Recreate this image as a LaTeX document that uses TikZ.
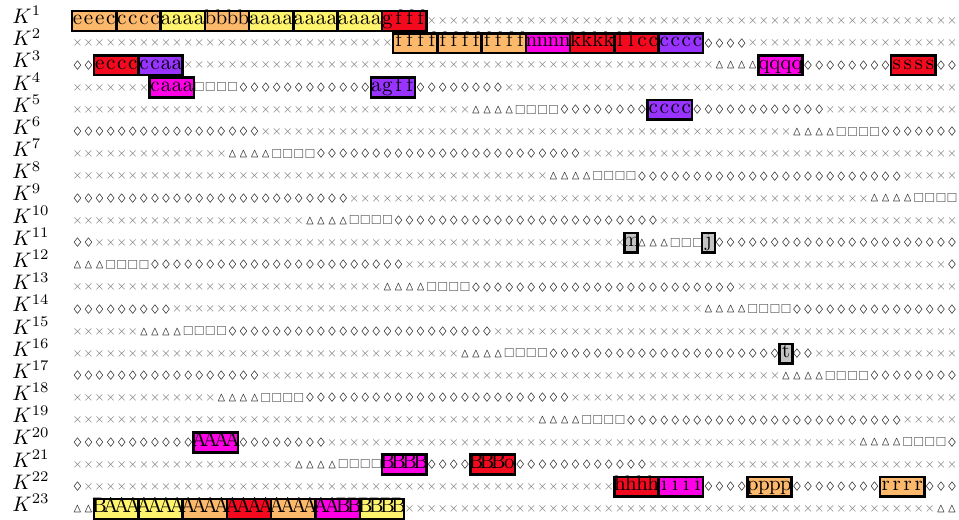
\documentclass[tikz,border=0pt]{standalone}
\usepackage{amssymb}
\definecolor{SeqOrange}{HTML}{FDB96B}
\definecolor{SeqYellow}{HTML}{FFF46E}
\definecolor{SeqRed}{HTML}{F40A1F}
\definecolor{SeqMagenta}{HTML}{FF00E6}
\definecolor{SeqPurple}{HTML}{9933FF}
\definecolor{SeqGray}{HTML}{C3C3C3}
\definecolor{MarkGray}{HTML}{787878}
\tikzset{
  rowlabel/.style={anchor=base west, inner sep=0pt, font=\normalsize},
  cellsym/.style={inner sep=0pt, font=\tiny},
  seqfill/.style={draw=black, line width=1.2pt, inner sep=0pt,
                  minimum width=21.1pt, minimum height=9.4pt},
  onefill/.style={seqfill, fill=SeqGray, minimum width=6pt},
  boxletter/.style={inner sep=0pt, font=\normalsize,
                    text height=6pt, text depth=2.5pt},
}
\newcommand{\glyphx}{\textcolor{MarkGray}{$\times$}}
\newcommand{\glyphd}{$\lozenge$}
\newcommand{\glypht}{{\fontsize{6}{7}\selectfont\textcolor{black!85}{$\vartriangle$}}}
\newcommand{\glyphs}{\textcolor{black!70}{$\square$}}

\begin{document}
\begin{tikzpicture}[x=0.476pt, y=-0.476pt]

  \useasboundingbox (0,0) rectangle (959,520);

  % \symrow{row}{code/run,...}: x cross, d lozenge, t triangle, s square, b under a box
  \newcommand{\symrow}[2]{%
    \foreach \sym/\n [remember=\stop as \start (initially 0),
        evaluate=\n as \stop using int(\start+\n),
        evaluate=\n as \last using int(\start+\n-1)] in {#2}{%
      \if\sym b\else
        \foreach \k in {\start,...,\last}
          \node[cellsym] (s-#1-\k) at ({72+11.07*(\k+0.5)},{21+22.18*(#1-1)})
            {\csname glyph\sym\endcsname};
      \fi
    }%
  }
  % \seqbox{row}{first cell}{colour}{four letters}
  \newcommand{\seqbox}[4]{%
    \node[seqfill, fill=#3] (b-#1-#2) at ({72+11.07*(#2+2)},{21+22.18*(#1-1)}) {};
    \foreach \ch [count=\i from 0] in {#4}
      \node[boxletter] (l-#1-#2-\i) at ({72+11.07*(#2+\i+0.5)},{21+22.18*(#1-1)}) {\ch};
  }
  % \onebox{row}{cell}{letter}
  \newcommand{\onebox}[3]{%
    \node[onefill] (o-#1-#2) at ({72+11.07*(#2+0.5)},{21+22.18*(#1-1)}) {};
    \node[boxletter] (l-#1-#2) at ({72+11.07*(#2+0.5)},{21+22.18*(#1-1)}) {#3};
  }

  \foreach \r in {1,...,23}
    \node[rowlabel] (k-\r) at (12,{23.5+22.18*(\r-1)}) {$K^{\r}$};

  \symrow{1}{b/32,x/48}
  \symrow{2}{x/29,b/28,d/4,x/19}
  \symrow{3}{d/2,b/8,x/48,t/4,b/4,d/8,b/4,d/2}
  \symrow{4}{x/7,b/4,s/4,d/12,b/4,d/8,x/41}
  \symrow{5}{x/36,t/4,s/4,d/8,b/4,d/12,x/12}
  \symrow{6}{d/17,x/48,t/4,s/4,d/7}
  \symrow{7}{x/14,t/4,s/4,d/24,x/34}
  \symrow{8}{x/43,t/4,s/4,d/24,x/5}
  \symrow{9}{d/25,x/47,t/4,s/4}
  \symrow{10}{x/21,t/4,s/4,d/24,x/27}
  \symrow{11}{d/2,x/48,b/1,t/3,s/3,b/1,d/22}
  \symrow{12}{t/3,s/4,d/23,x/49,d/1}
  \symrow{13}{x/28,t/4,s/4,d/24,x/20}
  \symrow{14}{d/9,x/48,t/4,s/4,d/15}
  \symrow{15}{x/6,t/4,s/4,d/24,x/42}
  \symrow{16}{x/35,t/4,s/4,d/21,b/1,d/2,x/13}
  \symrow{17}{d/17,x/47,t/4,s/4,d/8}
  \symrow{18}{x/13,t/4,s/4,d/24,x/35}
  \symrow{19}{x/42,t/4,s/4,d/25,x/5}
  \symrow{20}{d/11,b/4,d/8,x/48,t/4,s/4,d/1}
  \symrow{21}{x/20,t/4,s/4,b/4,d/4,b/4,d/12,x/28}
  \symrow{22}{d/1,x/48,b/8,d/4,b/4,d/8,b/4,d/3}
  \symrow{23}{t/2,b/28,x/48,t/2}

  % coloured blocks
  \seqbox{1}{0}{SeqOrange}{e,e,e,c}
  \seqbox{1}{4}{SeqOrange}{c,c,c,c}
  \seqbox{1}{8}{SeqYellow}{a,a,a,a}
  \seqbox{1}{12}{SeqOrange}{b,b,b,b}
  \seqbox{1}{16}{SeqYellow}{a,a,a,a}
  \seqbox{1}{20}{SeqYellow}{a,a,a,a}
  \seqbox{1}{24}{SeqYellow}{a,a,a,a}
  \seqbox{1}{28}{SeqRed}{g,f,f,f}
  \seqbox{2}{29}{SeqOrange}{f,f,f,f}
  \seqbox{2}{33}{SeqOrange}{f,f,f,f}
  \seqbox{2}{37}{SeqOrange}{f,f,f,f}
  \seqbox{2}{41}{SeqMagenta}{n,n,n,n}
  \seqbox{2}{45}{SeqRed}{k,k,k,k}
  \seqbox{2}{49}{SeqRed}{l,l,c,c}
  \seqbox{2}{53}{SeqPurple}{c,c,c,c}
  \seqbox{3}{2}{SeqRed}{e,c,c,c}
  \seqbox{3}{6}{SeqPurple}{c,c,a,a}
  \seqbox{3}{62}{SeqMagenta}{q,q,q,q}
  \seqbox{3}{74}{SeqRed}{s,s,s,s}
  \seqbox{4}{7}{SeqMagenta}{c,a,a,a}
  \seqbox{4}{27}{SeqPurple}{a,g,f,f}
  \seqbox{5}{52}{SeqPurple}{c,c,c,c}
  \seqbox{20}{11}{SeqMagenta}{A,A,A,A}
  \seqbox{21}{28}{SeqMagenta}{B,B,B,B}
  \seqbox{21}{36}{SeqRed}{B,B,B,o}
  \seqbox{22}{49}{SeqRed}{h,h,h,h}
  \seqbox{22}{53}{SeqMagenta}{i,i,i,i}
  \seqbox{22}{61}{SeqOrange}{p,p,p,p}
  \seqbox{22}{73}{SeqOrange}{r,r,r,r}
  \seqbox{23}{2}{SeqYellow}{B,A,A,A}
  \seqbox{23}{6}{SeqYellow}{A,A,A,A}
  \seqbox{23}{10}{SeqOrange}{A,A,A,A}
  \seqbox{23}{14}{SeqRed}{A,A,A,A}
  \seqbox{23}{18}{SeqOrange}{A,A,A,A}
  \seqbox{23}{22}{SeqMagenta}{A,A,B,B}
  \seqbox{23}{26}{SeqYellow}{B,B,B,B}

  % single grey cells
  \onebox{11}{50}{m}
  \onebox{11}{57}{j}
  \onebox{16}{64}{t}

\end{tikzpicture}
\end{document}
